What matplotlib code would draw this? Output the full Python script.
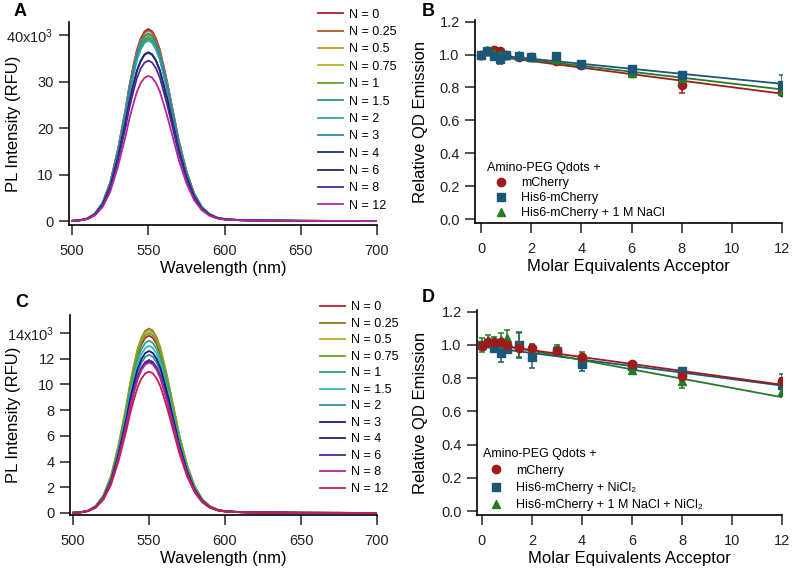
import numpy as np
import matplotlib
matplotlib.use("Agg")
import matplotlib.pyplot as plt

plt.rcParams['font.family'] = ['Liberation Sans', 'DejaVu Sans']
plt.rcParams['mathtext.default'] = 'regular'

# ---- spectra (A, C) ----
wavelength = [500, 505, 510, 515, 520, 525, 530, 532.5, 535, 537.5, 540, 542.5, 545,
              547.5, 550, 552.5, 555, 557.5, 560, 562.5, 565, 567.5, 570, 575, 580,
              585, 590, 595, 600, 610, 620, 650, 700]
# normalised emission profile
profile = [0.001, 0.004, 0.013, 0.038, 0.095, 0.20, 0.37, 0.475, 0.58, 0.70, 0.80,
           0.89, 0.95, 0.987, 1.0, 0.988, 0.952, 0.895, 0.81, 0.72, 0.62, 0.52, 0.42,
           0.26, 0.145, 0.075, 0.037, 0.018, 0.010, 0.005, 0.003, 0.001, 0.0]

n_labels = ['N = 0', 'N = 0.25', 'N = 0.5', 'N = 0.75', 'N = 1', 'N = 1.5',
            'N = 2', 'N = 3', 'N = 4', 'N = 6', 'N = 8', 'N = 12']
peaks_A = [41300, 41000, 40400, 39900, 39600, 39200, 38800, 40300, 36300, 36200, 34500, 31200]
peaks_C = [13800, 14350, 14200, 14000, 13400, 13000, 12300, 12600, 11800, 11900, 11700, 11000]
colors_A = ['#a3262a', '#b5541c', '#c09a20', '#b5b51e', '#62a02a', '#2aa068',
            '#28a8a8', '#2a88b0', '#1c2c8c', '#262668', '#4c2896', '#b4289c']
colors_C = ['#c0202c', '#9a7018', '#b0b020', '#6ea028', '#26a880', '#3ab8b8',
            '#2890a8', '#141c84', '#202462', '#54249c', '#b0288c', '#c41c58']

# ---- quenching (B, D) ----
equiv = [0, 0.25, 0.5, 0.75, 1, 1.5, 2, 3, 4, 6, 8, 12]

B_red = [1.0, 1.02, 1.025, 1.02, 1.0, 0.985, 0.985, 0.96, 0.935, 0.89, 0.815, 0.775]
B_red_err = [0.01, 0.01, 0.01, 0.01, 0.01, 0.01, 0.01, 0.01, 0.01, 0.01, 0.05, 0.015]
B_blue = [1.0, 1.02, 0.99, 0.975, 1.0, 0.99, 0.985, 0.99, 0.945, 0.915, 0.875, 0.815]
B_blue_err = [0.015, 0.01, 0.015, 0.03, 0.01, 0.01, 0.01, 0.02, 0.01, 0.01, 0.01, 0.06]
B_green = [1.0, 1.03, 1.01, 1.0, 1.0, 1.0, 0.985, 0.97, 0.94, 0.885, 0.86, 0.78]
B_green_err = [0.01, 0.01, 0.01, 0.01, 0.01, 0.01, 0.01, 0.01, 0.01, 0.01, 0.01, 0.01]
B_fit_x = [0, 12]
B_fit_red = [1.0, 0.762]
B_fit_blue = [1.005, 0.822]
B_fit_green = [1.003, 0.788]

D_red = [0.995, 1.02, 1.02, 1.02, 1.0, 0.98, 0.98, 0.965, 0.93, 0.885, 0.815, 0.78]
D_red_err = [0.02, 0.01, 0.01, 0.01, 0.01, 0.01, 0.01, 0.01, 0.01, 0.01, 0.03, 0.02]
D_blue = [1.0, 1.01, 0.98, 0.95, 0.975, 1.0, 0.93, 0.965, 0.885, 0.87, 0.84, 0.76]
D_blue_err = [0.02, 0.02, 0.02, 0.055, 0.02, 0.08, 0.07, 0.02, 0.04, 0.02, 0.02, 0.065]
D_green = [1.0, 1.03, 1.03, 1.03, 1.04, 1.0, 0.985, 0.98, 0.925, 0.85, 0.78, 0.72]
D_green_err = [0.04, 0.03, 0.02, 0.04, 0.05, 0.07, 0.02, 0.02, 0.035, 0.02, 0.04, 0.025]
D_fit_x = [0, 12]
D_fit_red = [1.01, 0.76]
D_fit_blue = [0.99, 0.755]
D_fit_green = [1.02, 0.685]

RED = '#9e1b1b'
BLUE = '#1b5878'
GREEN = '#257a25'

fig = plt.figure(figsize=(8, 5.73), dpi=100)
axA = fig.add_axes([0.08625, 0.6073, 0.385, 0.3543])
axB = fig.add_axes([0.59375, 0.6108, 0.38375, 0.3543])
axC = fig.add_axes([0.0875, 0.1012, 0.38375, 0.349])
axD = fig.add_axes([0.59625, 0.1012, 0.38125, 0.3578])


def style(ax, ylab_x):
    for s in ['top', 'right']:
        ax.spines[s].set_visible(False)
    for s in ['left', 'bottom']:
        ax.spines[s].set_linewidth(1.2)
    ax.tick_params(direction='out', length=7, width=1.1, labelsize=10.5, colors='#222222')
    ax.tick_params(axis='x', pad=7)
    ax.tick_params(axis='y', pad=4)
    ax.yaxis.set_label_coords(ylab_x, 0.5)
    ax.xaxis.labelpad = 1.5


wl = np.array(wavelength)
prof = np.array(profile)

leg_kw = dict(frameon=False, fontsize=9, handlelength=2.0, handletextpad=0.45,
              borderpad=0.3, borderaxespad=0, loc='upper left',
              bbox_transform=fig.transFigure)

# A
for pk, c, lab in zip(peaks_A, colors_A, n_labels):
    axA.plot(wl, pk * prof, color=c, lw=1.3, label=lab)
axA.set_xlim(498, 700)
axA.set_ylim(-860, 42800)
axA.set_xticks([500, 550, 600, 650, 700])
axA.set_yticks([0, 10000, 20000, 30000, 40000])
axA.set_yticklabels(['0', '10', '20', '30', '40x10$^{3}$'])
axA.set_xlabel('Wavelength (nm)', fontsize=12)
axA.set_ylabel('PL Intensity (RFU)', fontsize=12)
style(axA, -0.156)
axA.legend(bbox_to_anchor=(0.3928, 0.9913), labelspacing=0.43, **leg_kw)

# C
for pk, c, lab in zip(peaks_C, colors_C, n_labels):
    axC.plot(wl, pk * prof, color=c, lw=1.3, label=lab)
axC.set_xlim(498, 700)
axC.set_ylim(-160, 15400)
axC.set_xticks([500, 550, 600, 650, 700])
axC.set_yticks([0, 2000, 4000, 6000, 8000, 10000, 12000, 14000])
axC.set_yticklabels(['0', '2', '4', '6', '8', '10', '12', '14x10$^{3}$'])
axC.set_xlabel('Wavelength (nm)', fontsize=12)
axC.set_ylabel('PL Intensity (RFU)', fontsize=12)
style(axC, -0.16)
axC.legend(bbox_to_anchor=(0.3953, 0.4805), labelspacing=0.36, **leg_kw)


def quench(ax, series, fits, fit_x, labels):
    handles = []
    for (y, err, col, mk), fit, lab in zip(series, fits, labels):
        ax.plot(fit_x, fit, color=col, lw=1.3, zorder=2)
        ax.errorbar(equiv, y, yerr=err, fmt='none', ecolor=col, elinewidth=1.1,
                    capsize=2.5, capthick=1.1, zorder=3)
        h, = ax.plot(equiv, y, linestyle='none', marker=mk, color=col,
                     markersize=6, zorder=4, label=lab)
        handles.append(h)
    return handles


qleg_kw = dict(loc='lower left', frameon=False, fontsize=9, title='Amino-PEG Qdots +',
               title_fontsize=9, alignment='left', handlelength=2.2, handletextpad=0.5,
               borderpad=0.3, borderaxespad=0)

# B
hB = quench(axB,
            [(B_red, B_red_err, RED, 'o'), (B_green, B_green_err, GREEN, '^'),
             (B_blue, B_blue_err, BLUE, 's')],
            [B_fit_red, B_fit_green, B_fit_blue], B_fit_x,
            ['mCherry', 'His6-mCherry + 1 M NaCl', 'His6-mCherry'])
axB.set_xlim(-0.24, 12)
axB.set_ylim(-0.024, 1.21)
axB.set_xticks([0, 2, 4, 6, 8, 10, 12])
axB.set_yticks([0, 0.2, 0.4, 0.6, 0.8, 1.0, 1.2])
axB.yaxis.set_major_formatter(matplotlib.ticker.FormatStrFormatter('%.1f'))
axB.set_xlabel('Molar Equivalents Acceptor', fontsize=12)
axB.set_ylabel('Relative QD Emission', fontsize=12)
style(axB, -0.153)
axB.legend([hB[0], hB[2], hB[1]], ['mCherry', 'His6-mCherry', 'His6-mCherry + 1 M NaCl'],
           bbox_to_anchor=(0.027, 0.0), labelspacing=0.25, **qleg_kw)

# D
hD = quench(axD,
            [(D_blue, D_blue_err, BLUE, 's'), (D_green, D_green_err, GREEN, '^'),
             (D_red, D_red_err, RED, 'o')],
            [D_fit_blue, D_fit_green, D_fit_red], D_fit_x,
            ['His6-mCherry + NiCl₂', 'His6-mCherry + 1 M NaCl + NiCl₂', 'mCherry'])
axD.set_xlim(-0.2, 12)
axD.set_ylim(-0.024, 1.21)
axD.set_xticks([0, 2, 4, 6, 8, 10, 12])
axD.set_yticks([0, 0.2, 0.4, 0.6, 0.8, 1.0, 1.2])
axD.yaxis.set_major_formatter(matplotlib.ticker.FormatStrFormatter('%.1f'))
axD.set_xlabel('Molar Equivalents Acceptor', fontsize=12)
axD.set_ylabel('Relative QD Emission', fontsize=12)
style(axD, -0.161)
axD.legend([hD[2], hD[0], hD[1]],
           ['mCherry', 'His6-mCherry + NiCl₂', 'His6-mCherry + 1 M NaCl + NiCl₂'],
           bbox_to_anchor=(0.0064, 0.0), labelspacing=0.42, **qleg_kw)

# panel letters
for x, y, s in [(14, 12, 'A'), (422, 12, 'B'), (15, 303, 'C'), (422, 298, 'D')]:
    fig.text(x / 800, 1 - y / 573, s, fontsize=13, fontweight='bold', va='center', ha='left')

fig.savefig('out.png', dpi=100)
